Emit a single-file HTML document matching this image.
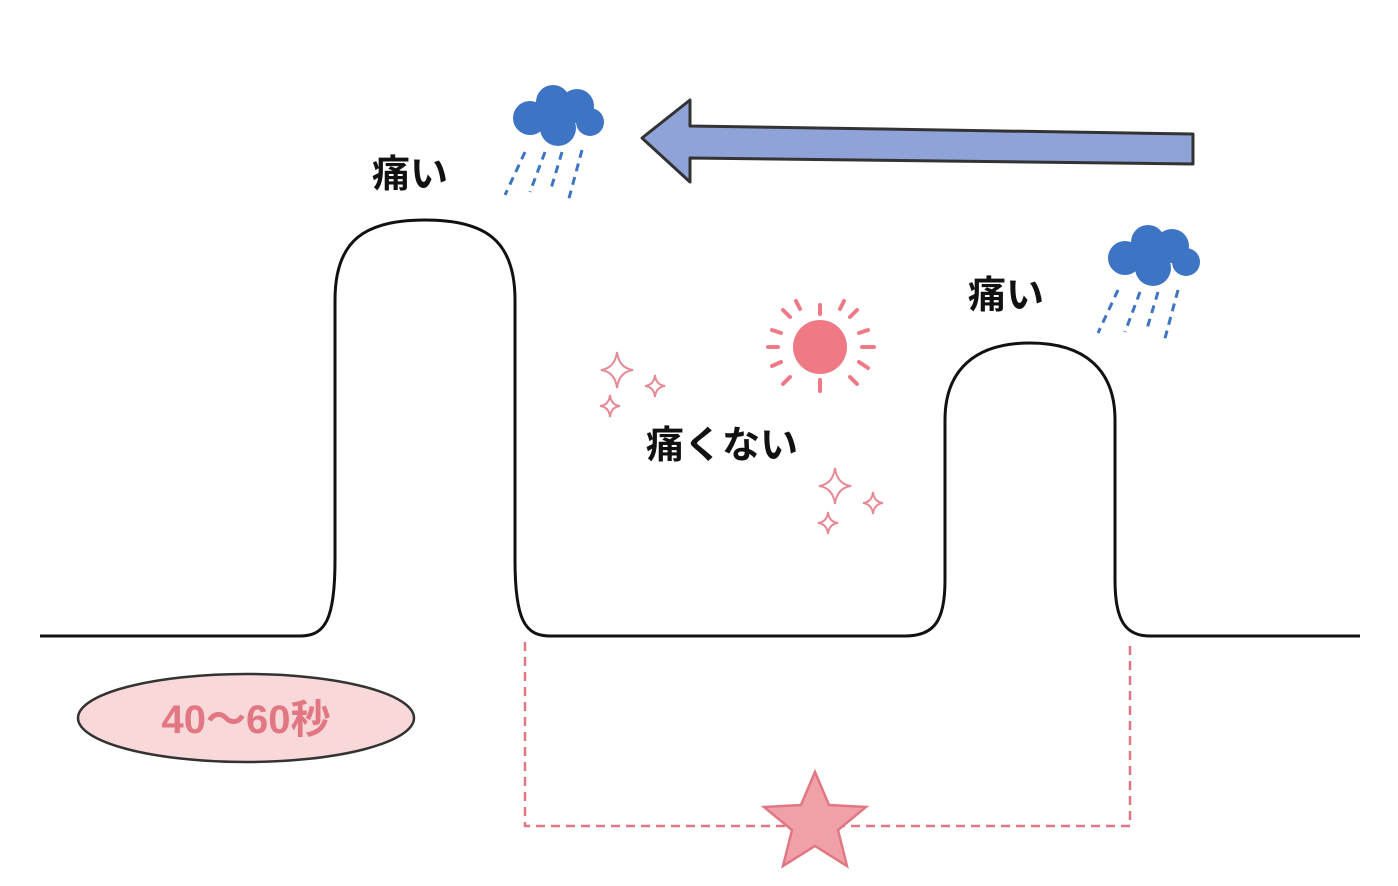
<!DOCTYPE html>
<html><head><meta charset="utf-8"><style>
html,body{margin:0;padding:0;background:#fff;}
svg{display:block;}
text{font-family:"Liberation Sans","Noto Sans CJK JP",sans-serif;font-weight:bold;}
</style></head><body>
<svg width="1398" height="886" viewBox="0 0 1398 886" xmlns="http://www.w3.org/2000/svg">
<path d="M40,636 L300,636 C325,636 335,620 335,560 L335,300 C335,240 365,220 425,220 C485,220 515,240 515,300 L515,560 C515,620 525,636 550,636 L905,636 C935,636 945,620 945,580 L945,420 C945,370 975,343 1030,343 C1085,343 1115,370 1115,420 L1115,580 C1115,620 1125,636 1150,636 L1360,636" fill="none" stroke="#111" stroke-width="3"/>
<!-- arrow -->
<path d="M642,138 L690,100 L690,126 L1193,134 L1193,164 L690,158 L690,182 Z" fill="#8fa3d8" stroke="#333" stroke-width="3" stroke-linejoin="round"/>
<!-- clouds -->
<g fill="#3e74c4">
<circle cx="530" cy="118" r="17"/><circle cx="553" cy="102" r="17"/><circle cx="577" cy="106" r="17"/><circle cx="590" cy="122" r="14"/><circle cx="558" cy="128" r="18"/>
<circle cx="1125" cy="258" r="17"/><circle cx="1148" cy="242" r="17"/><circle cx="1172" cy="246" r="17"/><circle cx="1186" cy="262" r="14"/><circle cx="1153" cy="268" r="18"/>
</g>
<g stroke="#3e74c4" stroke-width="3" stroke-dasharray="8 6">
<line x1="525" y1="152" x2="505" y2="195"/><line x1="545" y1="152" x2="530" y2="192"/><line x1="562" y1="152" x2="550" y2="192"/><line x1="582" y1="150" x2="568" y2="202"/>
<line x1="1118" y1="290" x2="1098" y2="333"/><line x1="1140" y1="292" x2="1125" y2="332"/><line x1="1158" y1="292" x2="1146" y2="332"/><line x1="1178" y1="290" x2="1164" y2="342"/>
</g>
<!-- sun -->
<circle cx="820" cy="347" r="27" fill="#ef7a86"/>
<g stroke="#ef7a86" stroke-width="4" stroke-linecap="round">
<line x1="820" y1="305" x2="820" y2="314"/><line x1="820" y1="380" x2="820" y2="391"/>
<line x1="778" y1="347" x2="768" y2="347"/><line x1="862" y1="347" x2="874" y2="347"/>
<line x1="790" y1="317" x2="783" y2="310"/><line x1="850" y1="317" x2="857" y2="310"/>
<line x1="790" y1="377" x2="783" y2="384"/><line x1="850" y1="377" x2="857" y2="384"/>
<line x1="800" y1="309" x2="796" y2="301"/><line x1="840" y1="309" x2="844" y2="301"/>
<line x1="781" y1="333" x2="772" y2="330"/><line x1="859" y1="333" x2="868" y2="330"/>
<line x1="781" y1="362" x2="772" y2="366"/><line x1="859" y1="362" x2="868" y2="368"/>
</g>
<!-- sparkles -->
<g fill="none" stroke="#e58a95" stroke-width="2">
<path d="M617,352 Q619,368 633,370 Q619,372 617,388 Q615,372 601,370 Q615,368 617,352Z"/>
<path d="M655,375 Q656,385 665,386 Q656,387 655,397 Q654,387 645,386 Q654,385 655,375Z"/>
<path d="M610,395 Q611,405 620,406 Q611,407 610,417 Q609,407 600,406 Q609,405 610,395Z"/>
<path d="M835,468 Q837,484 851,486 Q837,488 835,504 Q833,488 819,486 Q833,484 835,468Z"/>
<path d="M873,492 Q874,502 883,503 Q874,504 873,514 Q872,504 863,503 Q872,502 873,492Z"/>
<path d="M828,512 Q829,522 838,523 Q829,524 828,534 Q827,524 818,523 Q827,522 828,512Z"/>
</g>
<!-- labels -->
<text x="372" y="187" font-size="38" fill="#111">痛い</text>
<text x="968" y="308" font-size="38" fill="#111">痛い</text>
<text x="646" y="458" font-size="38" fill="#111">痛くない</text>
<!-- dashed bracket -->
<path d="M525,642 L525,826 L1130,826 L1130,642" fill="none" stroke="#e07782" stroke-width="2.5" stroke-dasharray="9 6"/>
<!-- star -->
<path d="M815,772 L829,805 L866,807 L838,830 L847,866 L815,846 L783,866 L792,830 L764,807 L801,805 Z" fill="#f0a0a8" stroke="#e07782" stroke-width="2.5"/>
<!-- ellipse label -->
<ellipse cx="246" cy="718" rx="168" ry="44" fill="#f9d8da" stroke="#333" stroke-width="2.5"/>
<text x="246" y="733" font-size="40" fill="#e07782" text-anchor="middle">40～60秒</text>
</svg>
</body></html>
